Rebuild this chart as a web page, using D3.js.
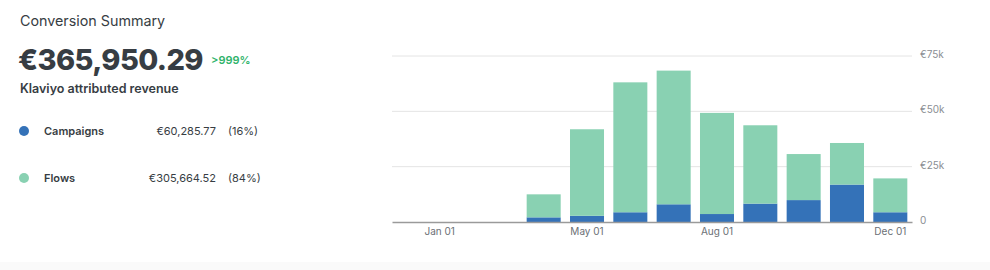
<!DOCTYPE html>
<html>
<head>
<meta charset="utf-8">
<script src="https://cdn.jsdelivr.net/npm/d3@7"></script>
<style>
	body { margin: 0; background: #fff; }
	svg { display: block; font-family: Inter, "Open Sans", sans-serif; }
</style>
</head>
<body>
<svg id="chart" width="990" height="270"></svg>
<script>
// data
var months = ["Jan", "Feb", "Mar", "Apr", "May", "Jun", "Jul", "Aug", "Sep", "Oct", "Nov", "Dec"];
var campaigns = [0, 0, 0, 2.1, 2.8, 4.4, 8.0, 3.6, 8.3, 9.9, 16.9, 4.4];
var flows = [0, 0, 0, 10.4, 39.1, 58.7, 60.4, 45.7, 35.4, 20.8, 18.8, 15.3];
var tickMonths = ["Jan", "May", "Aug", "Dec"];
var tickLabels = ["Jan 01", "May 01", "Aug 01", "Dec 01"];
var yTicks = [0, 25, 50, 75];
var yTickLabels = ["0", "€25k", "€50k", "€75k"];
var seriesNames = ["Campaigns", "Flows"];
var seriesTotals = ["€60,285.77", "€305,664.52"];
var seriesShares = ["(16%)", "(84%)"];
var colors = ["#3472b8", "#89d1b2"];

var svg = d3.select("#chart");
var textColor = "#373d43";

// faint footer band
svg.append("rect").attr("x", 0).attr("y", 262).attr("width", 990).attr("height", 8).attr("fill", "#fafafa");

// summary block
svg.append("text")
	.attr("x", 20).attr("y", 26)
	.attr("font-size", 14.3).attr("fill", textColor)
	.text("Conversion Summary");
svg.append("text")
	.attr("x", 18).attr("y", 70)
	.attr("font-size", 29).attr("font-weight", 800).attr("fill", textColor)
	.attr("letter-spacing", "-0.6")
	.text("€365,950.29");
svg.append("text")
	.attr("x", 211).attr("y", 64)
	.attr("font-size", 11).attr("font-weight", 600).attr("fill", "#2fb36b")
	.text(">999%");
svg.append("text")
	.attr("x", 20).attr("y", 93)
	.attr("font-size", 12.5).attr("font-weight", 600).attr("fill", textColor)
	.text("Klaviyo attributed revenue");

var legendY = [131, 178];
seriesNames.forEach(function(name, i){
	var ly = legendY[i];
	svg.append("circle").attr("cx", 24).attr("cy", ly).attr("r", 5).attr("fill", colors[i]);
	svg.append("text").attr("x", 44).attr("y", ly + 4)
		.attr("font-size", 11).attr("font-weight", 600).attr("fill", textColor).text(name);
	svg.append("text").attr("x", 216).attr("y", ly + 4).attr("text-anchor", "end")
		.attr("font-size", 11).attr("fill", textColor).text(seriesTotals[i]);
	svg.append("text").attr("x", 228).attr("y", ly + 4)
		.attr("font-size", 11).attr("fill", textColor).text(seriesShares[i]);
});

// chart
var plotLeft = 392, plotRight = 912, plotTop = 56, plotBottom = 222;
var x = d3.scaleBand().domain(months).range([plotLeft, plotRight]).paddingInner(0.215).paddingOuter(0.108);
var y = d3.scaleLinear().domain([0, 75]).range([plotBottom, plotTop]);

// gridlines
svg.append("g").selectAll("line")
	.data(yTicks.slice(1))
	.join("line")
	.attr("x1", plotLeft).attr("x2", plotRight)
	.attr("y1", function(d){ return y(d); }).attr("y2", function(d){ return y(d); })
	.attr("stroke", "#e4e4e4").attr("stroke-width", 1);

// y labels
svg.append("g").selectAll("text")
	.data(yTicks)
	.join("text")
	.attr("x", 920).attr("y", function(d){ return y(d) + 2; })
	.attr("font-size", 10).attr("fill", "#8a8e93")
	.text(function(d, i){ return yTickLabels[i]; });

// stacked bars
var rows = months.map(function(m, i){ return {month: m, campaigns: campaigns[i], flows: flows[i]}; });
var stack = d3.stack().keys(["campaigns", "flows"])(rows);
svg.append("g").selectAll("g")
	.data(stack)
	.join("g")
	.attr("fill", function(d, i){ return colors[i]; })
	.selectAll("rect")
	.data(function(d){ return d; })
	.join("rect")
	.attr("x", function(d){ return x(d.data.month); })
	.attr("width", x.bandwidth())
	.attr("y", function(d){ return y(d[1]); })
	.attr("height", function(d){ return y(d[0]) - y(d[1]); });

// x axis
var xAxis = svg.append("g")
	.attr("transform", "translate(0," + plotBottom + ")")
	.call(d3.axisBottom(x).tickValues(tickMonths).tickSize(0).tickPadding(6)
		.tickFormat(function(d){ return tickLabels[tickMonths.indexOf(d)]; }));
xAxis.select(".domain").attr("stroke", "#9a9a9a").attr("stroke-width", 1.5);
xAxis.selectAll("text")
	.attr("font-family", "Inter, sans-serif").attr("font-size", 10).attr("fill", "#6b7075")
	.attr("dx", function(d){ return d == "Jan" ? 26 : 0; });
</script>
</body>
</html>
